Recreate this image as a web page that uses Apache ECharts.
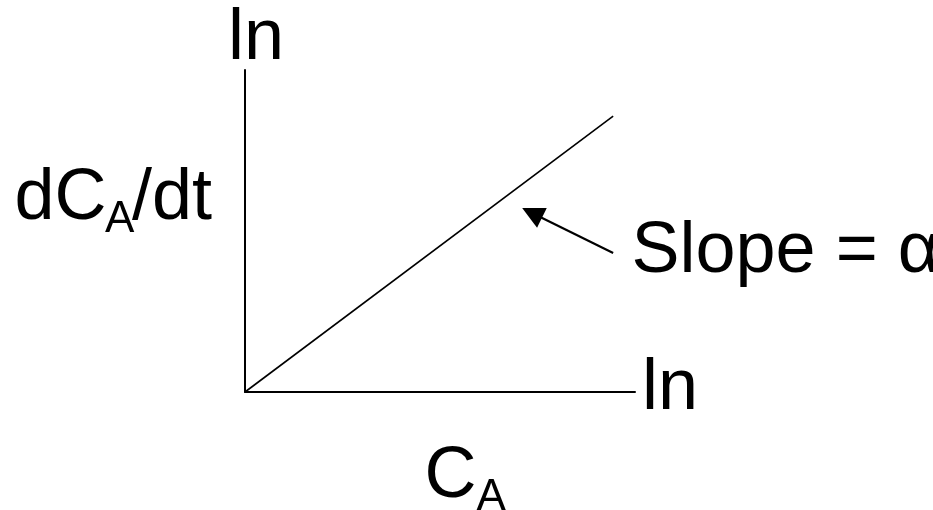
<!DOCTYPE html>
<html>
<head>
<meta charset="utf-8">
<script src="https://cdn.jsdelivr.net/npm/echarts@6/dist/echarts.min.js"></script>
<style>html,body{margin:0;padding:0;background:#fff;}#c{width:933px;height:510px;}</style>
</head>
<body>
<div id="c"></div>
<script>
// Data (axis units 0..100)
const lineX = [0, 94.4];
const lineY = [0, 85.7];
const arrowFrom = [94.4, 43.2];
const arrowTo = [73.6, 55.6];
const axisEndLabel = 'ln';
const yLabelMain = ['dC', '/dt'];
const xLabelMain = 'C';
const subLabel = 'A';
const slopeLabel = 'Slope = α';

const FONT = '"Liberation Sans", Arial, sans-serif';
function txt(x, y, s, size) {
  return {
    type: 'text', x: x, y: y, silent: true,
    style: { text: s, font: size + 'px ' + FONT, fill: '#000',
      align: 'left', verticalAlign: 'middle', textAlign: 'left', textVerticalAlign: 'middle' }
  };
}
const chart = echarts.init(document.getElementById('c'), null, { renderer: 'canvas' });
chart.setOption({
  animation: false,
  backgroundColor: '#fff',
  grid: { left: 245, top: 70, width: 390, height: 322 },
  xAxis: { type: 'value', min: 0, max: 100,
    axisLine: { show: true, lineStyle: { color: '#000', width: 2 } },
    axisTick: { show: false }, axisLabel: { show: false }, splitLine: { show: false } },
  yAxis: { type: 'value', min: 0, max: 100,
    axisLine: { show: true, lineStyle: { color: '#000', width: 2 } },
    axisTick: { show: false }, axisLabel: { show: false }, splitLine: { show: false } },
  series: [
    { type: 'line', data: lineX.map((x, i) => [x, lineY[i]]), showSymbol: false, symbol: 'none',
      lineStyle: { color: '#000', width: 1.6 } },
    { type: 'lines', coordinateSystem: 'cartesian2d', symbol: ['none', 'triangle'], symbolSize: 22,
      lineStyle: { color: '#000', width: 2.2, opacity: 1 },
      data: [{ coords: [arrowFrom, arrowTo] }] }
  ],
  graphic: [
    txt(228, 39, axisEndLabel, 72),
    txt(642, 389, axisEndLabel, 72),
    txt(14.5, 199, yLabelMain[0], 72),
    txt(105, 220, subLabel, 44),
    txt(132, 199, yLabelMain[1], 72),
    txt(424.5, 477, xLabelMain, 72),
    txt(476.5, 498, subLabel, 44),
    txt(631.5, 252, slopeLabel, 72)
  ]
});
</script>
</body>
</html>
